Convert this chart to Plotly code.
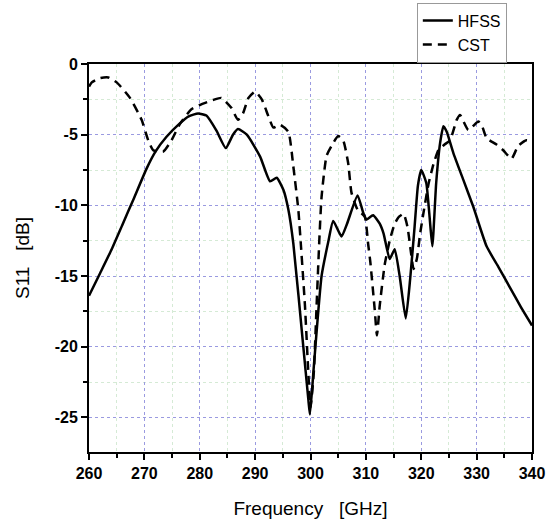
import plotly.graph_objects as go

# HFSS (solid)
hfss_freq = [260, 262, 264.1, 266, 268, 270.4, 272, 274, 276.4, 278, 279.7, 281.2, 283.0, 284.7,
             286.0, 286.9, 288.5, 290.9, 292.7, 293.9, 295.1, 296.0, 296.9, 298.7, 299.6, 299.9,
             300.6, 302.0, 303.2, 304.1, 305.6, 306.6, 308.5, 309.5, 310.1, 311.3, 312.5, 313.2,
             314.3, 315.2, 316.1, 317.2, 318.0, 318.8, 319.4, 320.0, 320.9, 321.5, 322.0, 322.7,
             323.4, 324.0, 324.6, 325.8, 327.6, 329.4, 331.8, 334, 336, 338, 340]
hfss_s11 = [-16.4, -14.8, -13.1, -11.4, -9.6, -7.4, -6.2, -5.15, -4.2, -3.7, -3.5, -3.65, -4.7, -5.95,
            -5.0, -4.6, -5.0, -6.55, -8.3, -8.05, -8.9, -10.3, -12.7, -20.0, -23.7, -24.8,
            -21.4, -15.0, -12.6, -11.1, -12.2, -11.3, -9.3, -10.5, -11.0, -10.7, -11.3, -12.0,
            -13.8, -13.1, -15.0, -18.0, -15.2, -11.5, -8.6, -7.5, -8.4, -10.8, -12.9, -8.4,
            -5.6, -4.4, -4.8, -6.3, -8.2, -10.1, -12.9, -14.4, -15.8, -17.2, -18.5]

# CST (dashed)
cst_freq = [260, 260.5, 262, 263.5, 265, 267.4, 269.5, 270.7, 271.6, 273.4, 274.9, 276.4, 278.5, 280,
            282.4, 283.9, 285.7, 286.9, 287.8, 288.8, 290.0, 291.2, 292.4, 293.3, 294.5, 296.0,
            296.9, 297.8, 298.3, 299.0, 299.6, 300.0, 300.6, 301.1, 301.6, 302.0, 302.9, 303.8,
            305.0, 305.9, 306.8, 307.4, 308.5, 309.8, 310.4, 310.8, 311.6, 312.0, 312.5, 313.4,
            314.3, 315.2, 316.0, 316.8, 317.5, 318.2, 318.6, 319.2, 319.8, 320.5, 321.3, 322.2,
            323.1, 324.2, 325.2, 326.4, 327.0, 328.5, 330.3, 330.9, 331.8, 333.6, 334.8, 336.3,
            337.5, 339.0, 340]
cst_s11 = [-1.6, -1.3, -1.0, -0.95, -1.3, -2.4, -3.95, -5.4, -6.1, -6.2, -5.4, -4.25, -3.2, -2.9,
           -2.55, -2.4, -3.1, -3.95, -3.5, -2.4, -1.95, -2.5, -3.7, -4.5, -4.3, -4.8,
           -7.25, -10.3, -13.0, -17.1, -21.8, -24.3, -21.8, -17.1, -12.4, -9.4, -6.5, -5.8,
           -5.1, -5.4, -7.0, -9.1, -10.3, -10.8, -12.7, -14.0, -17.4, -19.2, -17.1, -14.2,
           -12.5, -11.3, -10.8, -10.6, -11.5, -13.5, -14.5, -13.8, -12.0, -10.3, -8.5, -7.1,
           -6.1, -5.7, -5.4, -3.95, -3.6, -4.66, -4.07, -4.3, -5.25, -5.7, -6.1, -6.7,
           -5.8, -5.4, -5.5]

x_ticks = [260, 270, 280, 290, 300, 310, 320, 330, 340]
y_ticks = [0, -5, -10, -15, -20, -25]

FONT = "Arial, Liberation Sans, sans-serif"

fig = go.Figure()
fig.add_trace(go.Scatter(x=hfss_freq, y=hfss_s11, mode="lines", name="HFSS",
                         line=dict(color="black", width=2.5, shape="spline", smoothing=0.5)))
fig.add_trace(go.Scatter(x=cst_freq, y=cst_s11, mode="lines", name="CST",
                         line=dict(color="black", width=2.5, dash="9px,6px",
                                   shape="spline", smoothing=0.5)))

axis_common = dict(
    showline=True, linecolor="black", linewidth=2, mirror=True,
    ticks="outside", ticklen=6, tickwidth=2, tickcolor="black",
    showgrid=True, gridcolor="#9a9ae0", gridwidth=1, griddash="dot",
    zeroline=False, automargin=False,
    tickfont=dict(family=FONT, size=16, color="black", weight="bold"),
)

fig.update_xaxes(
    range=[260, 340], tickvals=x_ticks, ticktext=[str(v) for v in x_ticks],
    minor=dict(dtick=5, tick0=260, ticks="outside", ticklen=4, tickwidth=1.5, tickcolor="black",
               showgrid=True, gridcolor="#d5ead5", griddash="dot", gridwidth=1),
    title=dict(text="Frequency   [GHz]", font=dict(family=FONT, size=19, color="black"), standoff=20),
    **axis_common,
)
fig.update_yaxes(
    range=[-27.45, 0], tickvals=y_ticks, ticktext=[str(v) for v in y_ticks],
    minor=dict(dtick=2.5, tick0=0, ticks="outside", ticklen=4, tickwidth=1.5, tickcolor="black",
               showgrid=True, gridcolor="#d5ead5", griddash="dot", gridwidth=1),
    title=dict(text="S11   [dB]", font=dict(family=FONT, size=19, color="black"), standoff=20),
    **axis_common,
)

fig.add_annotation(text="(a)", xref="paper", yref="paper", x=0.43, y=1.16,
                   xanchor="center", yanchor="bottom", showarrow=False,
                   font=dict(family=FONT, size=16, color="black"))

fig.update_layout(
    width=547, height=523,
    margin=dict(l=89, r=15, t=64, b=71, autoexpand=False),
    paper_bgcolor="white", plot_bgcolor="white",
    font=dict(family=FONT, color="black"),
    legend=dict(x=0.740, y=1.158, xanchor="left", yanchor="top",
                bgcolor="white", bordercolor="#999999", borderwidth=1,
                font=dict(family=FONT, size=16, color="black"),
                tracegroupgap=0, itemwidth=30),
    showlegend=True,
)

fig.write_html("out.html", config={"displayModeBar": False},
               post_script="document.body.style.margin='0';document.body.style.overflow='hidden';")
